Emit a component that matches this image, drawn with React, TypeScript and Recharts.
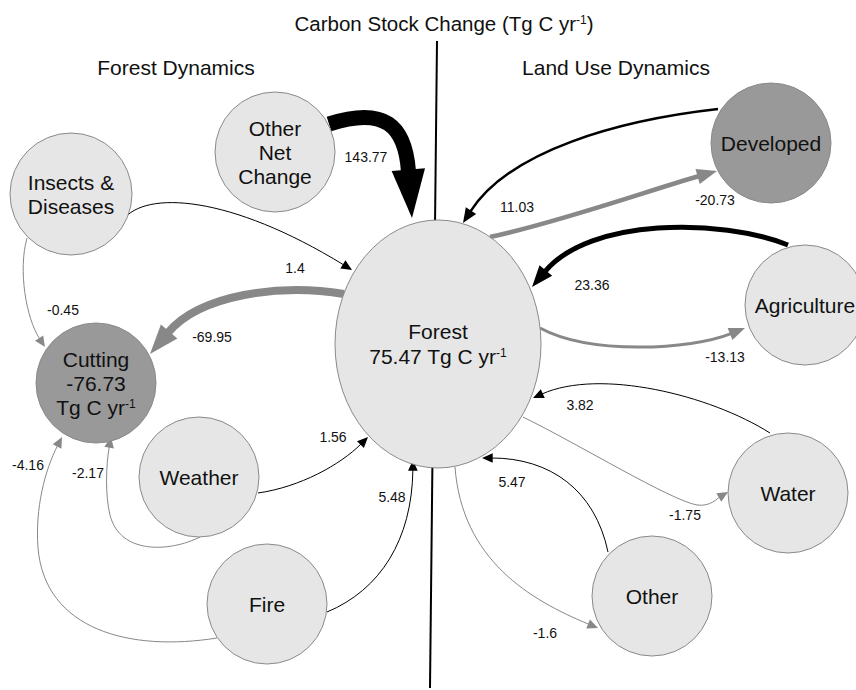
import { ScatterChart, Scatter, XAxis, YAxis } from 'recharts';

const W = 856;
const H = 690;
const FONT = '"Liberation Sans", Arial, Helvetica, sans-serif';

// ---- data ----
const nodeNames = [
  'Forest', 'Other Net Change', 'Insects & Diseases', 'Cutting', 'Weather',
  'Fire', 'Developed', 'Agriculture', 'Water', 'Other',
];
const nodeLabelLines = [
  ['Forest', '75.47 Tg C yr^{-1}'],
  ['Other', 'Net', 'Change'],
  ['Insects &', 'Diseases'],
  ['Cutting', '-76.73', 'Tg C yr^{-1}'],
  ['Weather'],
  ['Fire'],
  ['Developed'],
  ['Agriculture'],
  ['Water'],
  ['Other'],
];
const darkNodes = ['Cutting', 'Developed'];

const flowFrom = [
  'Other Net Change', 'Insects & Diseases', 'Insects & Diseases', 'Forest', 'Weather', 'Weather',
  'Fire', 'Fire', 'Developed', 'Forest', 'Agriculture', 'Forest', 'Water', 'Forest', 'Other', 'Forest',
];
const flowTo = [
  'Forest', 'Forest', 'Cutting', 'Cutting', 'Forest', 'Cutting',
  'Cutting', 'Forest', 'Forest', 'Developed', 'Forest', 'Agriculture', 'Forest', 'Water', 'Forest', 'Other',
];
const flowValues = [
  143.77, 1.4, -0.45, -69.95, 1.56, -2.17, -4.16, 5.48, 11.03, -20.73, 23.36, -13.13, 3.82, -1.75, 5.47, -1.6,
];

const title = 'Carbon Stock Change (Tg C yr^{-1})';
const sectionTitles = ['Forest Dynamics', 'Land Use Dynamics'];

// ---- layout (chart units = pixels) ----
const nodeLayout: Record<string, { x: number; y: number; rx: number; ry: number }> = {
  Forest: { x: 438, y: 344, rx: 103, ry: 124 },
  'Other Net Change': { x: 275, y: 152, rx: 60, ry: 60 },
  'Insects & Diseases': { x: 71, y: 194, rx: 61, ry: 61 },
  Cutting: { x: 96, y: 383, rx: 60, ry: 60 },
  Weather: { x: 199, y: 477, rx: 60, ry: 60 },
  Fire: { x: 267, y: 604, rx: 60, ry: 60 },
  Developed: { x: 771, y: 143, rx: 60, ry: 60 },
  Agriculture: { x: 805, y: 305, rx: 60, ry: 60 },
  Water: { x: 788, y: 493, rx: 60, ry: 60 },
  Other: { x: 652, y: 596, rx: 60, ry: 60 },
};

// bezier path per flow (from flowFrom to flowTo): start, (ctrl, ctrl, point)*; last point is the arrow tip
const flowPaths: number[][][] = [
  [[329, 124], [385, 106], [405, 126], [412, 218]],
  [[123, 220], [145, 190], [230, 195], [352, 270]],
  [[27, 238], [18, 270], [26, 318], [45, 347]],
  [[344, 294], [280, 283], [200, 295], [150, 354]],
  [[258, 493], [300, 487], [340, 465], [368, 437]],
  [[200, 537], [170, 552], [120, 555], [110, 515], [105, 495], [106, 465], [111, 437]],
  [[217, 638], [130, 652], [45, 630], [38, 548], [35, 508], [45, 470], [62, 437]],
  [[327, 612], [380, 590], [412, 540], [413, 460]],
  [[718, 109], [620, 120], [510, 150], [463, 223]],
  [[490, 237], [560, 222], [650, 190], [717, 171]],
  [[788, 245], [720, 218], [590, 218], [532, 287]],
  [[540, 328], [590, 355], [690, 350], [745, 328]],
  [[770, 433], [710, 395], [600, 368], [533, 398]],
  [[523, 417], [580, 445], [670, 500], [697, 505], [710, 507], [718, 498], [728, 492]],
  [[608, 552], [595, 490], [550, 458], [482, 458]],
  [[455, 467], [462, 560], [530, 600], [598, 628]],
];
const flowWidths = [15, 1, 1, 8, 1, 1, 1, 1, 2.5, 4.5, 5, 3, 1, 1, 1, 1];
const flowLabelPos = [
  [366, 157], [295, 268], [63, 310], [212, 337], [333, 437], [88, 473], [28, 465], [392, 497],
  [517, 207], [715, 200], [592, 285], [725, 357], [580, 405], [685, 515], [512, 482], [545, 633],
];
const titlePos = [444, 23];
const sectionPos = [[176, 67], [616, 67]];
const axisLine = [[437, 41], [430, 688]];

const nodeData = nodeNames.map((name, i) => ({
  ...nodeLayout[name],
  name,
  lines: nodeLabelLines[i],
  dark: darkNodes.includes(name),
}));
const flowLabelData = flowValues.map((v, i) => ({
  x: flowLabelPos[i][0],
  y: flowLabelPos[i][1],
  text: String(v),
  key: `${flowFrom[i]}->${flowTo[i]}`,
}));
const headingData = [
  { x: titlePos[0], y: titlePos[1], text: title, size: 20.5 },
  ...sectionTitles.map((t, i) => ({ x: sectionPos[i][0], y: sectionPos[i][1], text: t, size: 21 })),
];

function Rich({ text, supSize, supDy }: { text: string; supSize: number; supDy: number }) {
  const parts = text.split(/\^\{([^}]*)\}/);
  return (
    <>
      {parts.map((p, i) => {
        if (i % 2 === 1) return <tspan key={i} fontSize={supSize} dy={supDy}>{p}</tspan>;
        if (i > 0) return <tspan key={i} dy={-supDy}>{p}</tspan>;
        return <tspan key={i}>{p}</tspan>;
      })}
    </>
  );
}

function EdgeCurve(props: any) {
  const { points, edgeColor, edgeWidth } = props;
  if (!points || points.length < 4) return null;
  const n = points.length;
  const tip = points[n - 1];
  const prev = points[n - 2];
  const dx = tip.x - prev.x;
  const dy = tip.y - prev.y;
  const len = Math.hypot(dx, dy) || 1;
  const ux = dx / len;
  const uy = dy / len;
  const headLen = 8 + 2.7 * edgeWidth;
  const half = 4 + 0.85 * edgeWidth;
  const end = { x: tip.x - ux * (headLen - 1), y: tip.y - uy * (headLen - 1) };
  const base = { x: tip.x - ux * headLen, y: tip.y - uy * headLen };
  let d = `M${points[0].x},${points[0].y}`;
  for (let i = 1; i + 2 < n; i += 3) {
    const e = i + 2 === n - 1 ? end : points[i + 2];
    d += ` C${points[i].x},${points[i].y} ${points[i + 1].x},${points[i + 1].y} ${e.x},${e.y}`;
  }
  const head = [
    [tip.x, tip.y],
    [base.x - uy * half, base.y + ux * half],
    [base.x + uy * half, base.y - ux * half],
  ].map((q) => q.join(',')).join(' ');
  return (
    <g>
      <path d={d} fill="none" stroke={edgeColor} strokeWidth={edgeWidth} />
      <polygon points={head} fill={edgeColor} />
    </g>
  );
}

function NodeShape(props: any) {
  const { cx, cy, payload } = props;
  const lines: string[] = payload.lines;
  const lh = payload.name === 'Forest' ? 25 : 24;
  return (
    <g>
      <ellipse
        cx={cx}
        cy={cy}
        rx={payload.rx}
        ry={payload.ry}
        fill={payload.dark ? '#999999' : '#e6e6e6'}
        stroke="#8a8a8a"
        strokeWidth={1}
      />
      {lines.map((l, i) => (
        <text
          key={i}
          x={cx}
          y={cy + (i - (lines.length - 1) / 2) * lh + 7.5}
          textAnchor="middle"
          fontFamily={FONT}
          fontSize={21}
          fill="#111"
        >
          <Rich text={l} supSize={12} supDy={-7} />
        </text>
      ))}
    </g>
  );
}

const empty = () => <g />;

export default function App() {
  return (
    <div style={{ width: W, height: H, background: '#fff' }}>
      <style>{'body{margin:0}'}</style>
      <ScatterChart width={W} height={H} margin={{ top: 0, right: 0, bottom: 0, left: 0 }}>
        <XAxis type="number" dataKey="x" domain={[0, W]} allowDataOverflow hide />
        <YAxis type="number" dataKey="y" domain={[0, H]} reversed allowDataOverflow hide />
        <Scatter
          data={axisLine.map(([x, y]) => ({ x, y }))}
          line={{ stroke: '#000', strokeWidth: 2 }}
          shape={empty}
          isAnimationActive={false}
        />
        {flowPaths.map((pts, i) => (
          <Scatter
            key={`flow-${i}`}
            data={pts.map(([x, y]) => ({ x, y }))}
            line={<EdgeCurve edgeColor={flowValues[i] < 0 ? '#888888' : '#000000'} edgeWidth={flowWidths[i]} />}
            shape={empty}
            isAnimationActive={false}
          />
        ))}
        <Scatter data={nodeData} shape={NodeShape} isAnimationActive={false} />
        <Scatter
          data={flowLabelData}
          isAnimationActive={false}
          shape={(p: any) => (
            <text x={p.cx} y={p.cy + 5} textAnchor="middle" fontFamily={FONT} fontSize={14} fill="#111">
              {p.payload.text}
            </text>
          )}
        />
        <Scatter
          data={headingData}
          isAnimationActive={false}
          shape={(p: any) => (
            <text x={p.cx} y={p.cy + 7.5} textAnchor="middle" fontFamily={FONT} fontSize={p.payload.size} fill="#111">
              <Rich text={p.payload.text} supSize={12} supDy={-7} />
            </text>
          )}
        />
      </ScatterChart>
    </div>
  );
}
